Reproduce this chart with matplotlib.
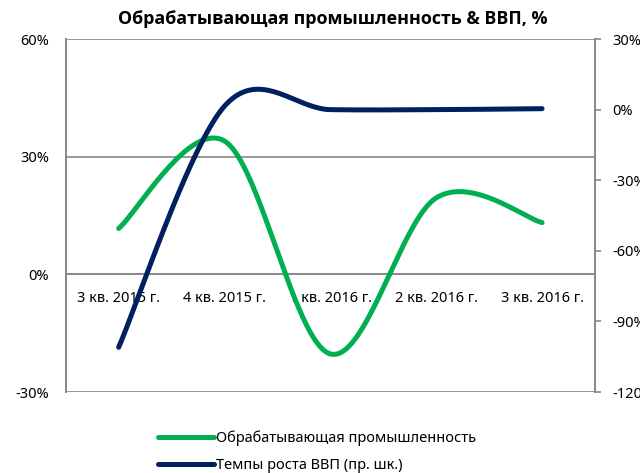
import numpy as np
import matplotlib
matplotlib.use('Agg')
import matplotlib.pyplot as plt
from matplotlib.ticker import FuncFormatter

plt.rcParams['font.family'] = ['Noto Sans', 'DejaVu Sans']

quarters = ['3 кв. 2015 г.', '4 кв. 2015 г.', '1 кв. 2016 г.', '2 кв. 2016 г.', '3 кв. 2016 г.']
manufacturing = [11.7, 34.0, -20.3, 19.5, 13.2]   # левая шкала
gdp_growth = [-101.0, 1.5, 0.0, 0.0, 0.4]          # правая шкала

GREEN = '#00B050'
NAVY = '#002060'
GRAY = '#878787'


def smooth(y, n=40):
    # сглаживание как в Excel: кривые Безье по Catmull-Rom
    y = np.asarray(y, dtype=float)
    x = np.arange(len(y), dtype=float)
    xs, ys = [], []
    for i in range(len(y) - 1):
        p0 = np.array([x[i], y[i]])
        p3 = np.array([x[i + 1], y[i + 1]])
        pm = np.array([x[max(i - 1, 0)], y[max(i - 1, 0)]])
        pp = np.array([x[min(i + 2, len(y) - 1)], y[min(i + 2, len(y) - 1)]])
        c1 = p0 + (p3 - pm) / 6
        c2 = p3 - (pp - p0) / 6
        t = np.linspace(0, 1, n)[:, None]
        pts = (1 - t) ** 3 * p0 + 3 * (1 - t) ** 2 * t * c1 + 3 * (1 - t) * t ** 2 * c2 + t ** 3 * p3
        xs.extend(pts[:, 0])
        ys.extend(pts[:, 1])
    return np.array(xs), np.array(ys)


fig = plt.figure(figsize=(6.4, 4.73), dpi=100)
ax = fig.add_axes([0.1027, 0.1712, 0.827, 0.7463])
ax2 = ax.twinx()

ax.set_xlim(-0.5, 4.5)
ax.set_ylim(-30, 60)
ax2.set_ylim(-120, 30)

for v in [60, 30, 0, -30]:
    ax.axhline(v, color=GRAY, lw=1.2, zorder=1)

gx, gy = smooth(manufacturing)
ax.plot(gx, gy, color=GREEN, lw=3.6, solid_capstyle='round', zorder=3)
nx, ny = smooth(gdp_growth)
ax2.plot(nx, ny, color=NAVY, lw=3.6, solid_capstyle='round', zorder=3)

pct = FuncFormatter(lambda v, p: '%d%%' % v)
ax.set_yticks([-30, 0, 30, 60])
ax.yaxis.set_major_formatter(pct)
ax.tick_params(axis='y', length=0, pad=12, labelsize=10.5, labelcolor='#000000')
ax2.set_yticks([-120, -90, -60, -30, 0, 30])
ax2.yaxis.set_major_formatter(pct)
ax2.tick_params(axis='y', direction='out', length=4.5, width=1.2, color=GRAY, pad=8, labelsize=10.5)

ax.set_xticks(range(len(quarters)))
ax.set_xticklabels(quarters)
ax.spines['bottom'].set_position(('data', 0))
ax.tick_params(axis='x', length=0, pad=12, labelsize=10.5)

for a in (ax, ax2):
    for s in a.spines.values():
        s.set_color(GRAY)
        s.set_linewidth(1.2)
ax.spines['top'].set_visible(False)
ax2.spines['top'].set_visible(False)
ax2.spines['bottom'].set_visible(False)

fig.text(0.52, 0.96, 'Обрабатывающая промышленность & ВВП, %', ha='center', va='center',
         fontsize=12.9, fontweight='bold', family=['Open Sans', 'DejaVu Sans'])

h1, = ax.plot([], [], color=GREEN, lw=3.6, solid_capstyle='round')
h2, = ax.plot([], [], color=NAVY, lw=3.6, solid_capstyle='round')
fig.legend([h1, h2], ['Обрабатывающая промышленность', 'Темпы роста ВВП (пр. шк.)'],
           loc='center left', bbox_to_anchor=(0.236, 0.045), frameon=False, fontsize=10.5,
           handlelength=3.8, handletextpad=0.15, labelspacing=0.85, borderpad=0)

fig.savefig('out.png', dpi=100)
